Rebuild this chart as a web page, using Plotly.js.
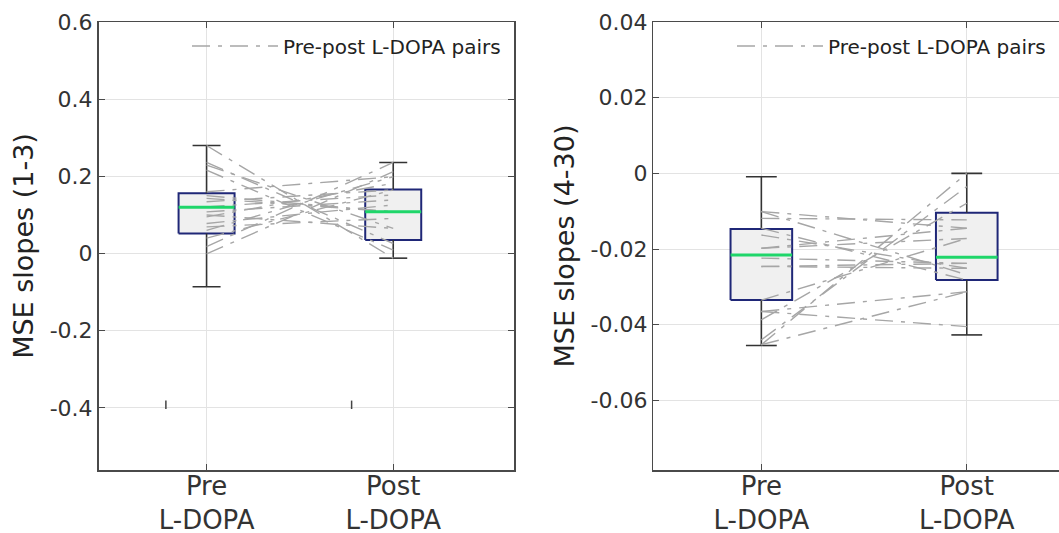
<!DOCTYPE html>
<html>
<head>
<meta charset="utf-8">
<script src="https://cdn.plot.ly/plotly-3.0.1.min.js"></script>
<style>html,body{margin:0;padding:0;background:#fff;}#chart{width:1059px;height:533px;}</style>
</head>
<body>
<div id="chart"></div>
<script>
// ---------- data ----------
const categories = ['Pre<br>L-DOPA', 'Post<br>L-DOPA'];
const positions = [1, 2];

// left panel: MSE slopes (1-3)
const leftLower  = [-0.086, -0.012];
const leftQ1     = [0.052, 0.035];
const leftMedian = [0.120, 0.108];
const leftQ3     = [0.156, 0.166];
const leftUpper  = [0.280, 0.236];
const leftPre  = [0.280, 0.236, 0.229, 0.216, 0.160, 0.143, 0.134, 0.121, 0.108, 0.095, 0.078, 0.069, 0.018, -0.001, 0.150, 0.100, 0.060, 0.040];
const leftPost = [-0.012, 0.026, 0.065, 0.009, 0.199, 0.108, 0.165, 0.152, 0.139, 0.182, 0.126, 0.091, 0.236, 0.212, 0.108, 0.065, 0.199, 0.165];
const leftStrayX = [0.782, 1.777];
const leftStrayY = [-0.392, -0.392];

// right panel: MSE slopes (4-30)
const rightLower  = [-0.0455, -0.0427];
const rightQ1     = [-0.0335, -0.0282];
const rightMedian = [-0.0216, -0.0222];
const rightQ3     = [-0.0147, -0.0104];
const rightUpper  = [-0.0009, 0.0000];
const rightPre  = [-0.0453, -0.0440, -0.0387, -0.0453, -0.0365, -0.0335, -0.0101, -0.0119, -0.0101, -0.0145, -0.0163, -0.0198, -0.0224, -0.0246, -0.0246, -0.0198, -0.0365];
const rightPost = [0.0000, -0.0035, -0.0079, -0.0313, -0.0405, -0.0172, -0.0145, -0.0123, -0.0268, -0.0282, -0.0251, -0.0145, -0.0238, -0.0251, -0.0238, -0.0172, -0.0313];

// ---------- styles ----------
const FONT = 'DejaVu Sans, Verdana, sans-serif';
const boxHalf = 0.15, capHalf = 0.075;
const boxLine = '#1f2777', boxFill = '#f0f0f0', medColor = '#1fd66a', whiskColor = '#333333';
const pairColor = '#a6a6a6';

function panelTraces(xa, ya, lower, q1, med, q3, upper, pre, post, legendName) {
  const tr = [];
  positions.forEach((p, i) => {
    tr.push({type:'scatter', mode:'lines', xaxis:xa, yaxis:ya, showlegend:false, hoverinfo:'skip',
      x:[p-boxHalf, p+boxHalf, p+boxHalf, p-boxHalf, p-boxHalf], y:[q1[i], q1[i], q3[i], q3[i], q1[i]],
      fill:'toself', fillcolor:boxFill, line:{color:boxLine, width:2}});
    tr.push({type:'scatter', mode:'lines', xaxis:xa, yaxis:ya, showlegend:false, hoverinfo:'skip',
      x:[p, p, null, p, p, null, p-capHalf, p+capHalf, null, p-capHalf, p+capHalf],
      y:[q3[i], upper[i], null, q1[i], lower[i], null, upper[i], upper[i], null, lower[i], lower[i]],
      line:{color:whiskColor, width:1.6}});
  });
  const px = [], py = [];
  pre.forEach((v, k) => { px.push(positions[0], positions[1], null); py.push(v, post[k], null); });
  tr.push({type:'scatter', mode:'lines', xaxis:xa, yaxis:ya, name:'Pre-post L-DOPA pairs',
    legend:legendName, showlegend:true, x:px, y:py, connectgaps:false,
    line:{color:pairColor, width:1.4, dash:'18px,8px,4px,8px'}});
  positions.forEach((p, i) => {
    tr.push({type:'scatter', mode:'lines', xaxis:xa, yaxis:ya, showlegend:false, hoverinfo:'skip',
      x:[p-boxHalf, p+boxHalf], y:[med[i], med[i]], line:{color:medColor, width:3}});
  });
  return tr;
}

const traces = [].concat(
  panelTraces('x', 'y', leftLower, leftQ1, leftMedian, leftQ3, leftUpper, leftPre, leftPost, 'legend'),
  [{type:'scatter', mode:'markers', xaxis:'x', yaxis:'y', showlegend:false, hoverinfo:'skip',
    x:leftStrayX, y:leftStrayY, marker:{symbol:'line-ns', size:6, line:{color:'#444', width:1.5}}}],
  panelTraces('x2', 'y2', rightLower, rightQ1, rightMedian, rightQ3, rightUpper, rightPre, rightPost, 'legend2')
);

const W = 1059;
const axisCommon = {
  showline:true, linecolor:'#4a4a4a', linewidth:1.5, ticks:'inside', ticklen:6, tickcolor:'#4a4a4a',
  showgrid:true, gridcolor:'#e3e3e3', gridwidth:1, zeroline:false
};
const legendCommon = {bgcolor:'rgba(0,0,0,0)', font:{family:FONT, size:20, color:'#222'},
  yanchor:'middle', xanchor:'left', itemwidth:86, borderwidth:0};

const layout = {
  width:1059, height:533, margin:{l:0, r:0, t:22, b:63}, paper_bgcolor:'#fff', plot_bgcolor:'#fff',
  font:{family:FONT, color:'#333'},
  xaxis: Object.assign({}, axisCommon, {domain:[98.5/W, 514/W], range:[0.421, 2.647], mirror:'ticks',
    tickvals:positions, ticktext:categories, ticklabelstandoff:-8, tickfont:{family:FONT, size:26, color:'#333'}}),
  yaxis: Object.assign({}, axisCommon, {domain:[0,1], range:[-0.561, 0.6], mirror:'ticks',
    tickvals:[-0.4,-0.2,0,0.2,0.4,0.6], ticktext:['-0.4','-0.2','0','0.2','0.4','0.6'],
    tickfont:{family:FONT, size:22, color:'#333'},
    title:{text:'MSE slopes (1-3)', font:{family:FONT, size:27, color:'#222'}, standoff:8}}),
  xaxis2: Object.assign({}, axisCommon, {domain:[653.3/W, 1], range:[0.474, 2.449], mirror:'ticks', anchor:'y2',
    tickvals:positions, ticktext:categories, ticklabelstandoff:-8, tickfont:{family:FONT, size:26, color:'#333'}}),
  yaxis2: Object.assign({}, axisCommon, {domain:[0,1], range:[-0.0784, 0.04], mirror:false, anchor:'x2',
    tickvals:[-0.06,-0.04,-0.02,0,0.02,0.04], ticktext:['-0.06','-0.04','-0.02','0','0.02','0.04'],
    tickfont:{family:FONT, size:22, color:'#333'},
    title:{text:'MSE slopes (4-30)', font:{family:FONT, size:27, color:'#222'}, standoff:8}}),
  legend: Object.assign({}, legendCommon, {x:187/W, y:1-(46-22)/448}),
  legend2: Object.assign({}, legendCommon, {x:732/W, y:1-(46-22)/448})
};

Plotly.newPlot('chart', traces, layout, {displayModeBar:false, staticPlot:true});
</script>
</body>
</html>
